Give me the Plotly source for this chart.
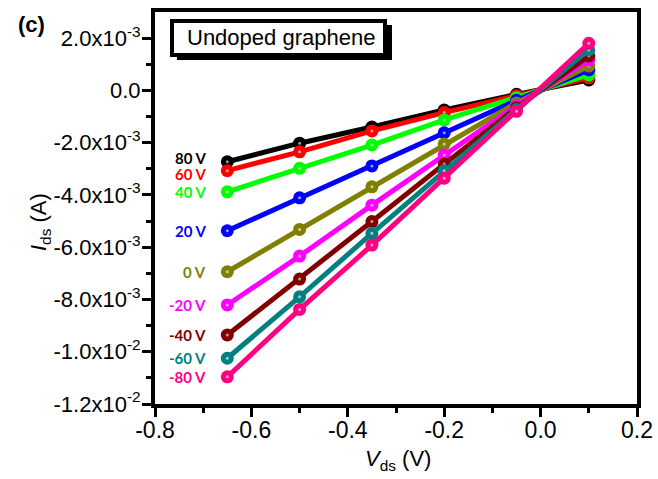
import plotly.graph_objects as go

# ---------------- data ----------------
vds = [-0.65, -0.5, -0.35, -0.2, -0.05, 0.1]

gate_labels = ["80 V", "60 V", "40 V", "20 V", "0 V", "-20 V", "-40 V", "-60 V", "-80 V"]

ids_80 = [-2.73e-3, -2.02e-3, -1.40e-3, -0.75e-3, -0.15e-3, 0.40e-3]
ids_60 = [-3.07e-3, -2.35e-3, -1.55e-3, -0.85e-3, -0.20e-3, 0.48e-3]
ids_40 = [-3.88e-3, -2.98e-3, -2.09e-3, -1.13e-3, -0.28e-3, 0.59e-3]
ids_20 = [-5.37e-3, -4.11e-3, -2.89e-3, -1.62e-3, -0.38e-3, 0.78e-3]
ids_0 = [-6.94e-3, -5.32e-3, -3.69e-3, -2.05e-3, -0.48e-3, 0.93e-3]
ids_m20 = [-8.21e-3, -6.34e-3, -4.39e-3, -2.47e-3, -0.58e-3, 1.16e-3]
ids_m40 = [-9.36e-3, -7.22e-3, -5.02e-3, -2.82e-3, -0.66e-3, 1.32e-3]
ids_m60 = [-10.25e-3, -7.90e-3, -5.47e-3, -3.07e-3, -0.73e-3, 1.55e-3]
ids_m80 = [-10.96e-3, -8.38e-3, -5.92e-3, -3.36e-3, -0.80e-3, 1.80e-3]

series = [ids_80, ids_60, ids_40, ids_20, ids_0, ids_m20, ids_m40, ids_m60, ids_m80]

x_tickvals = [-0.8, -0.6, -0.4, -0.2, 0.0, 0.2]
x_ticktext = ["-0.8", "-0.6", "-0.4", "-0.2", "0.0", "0.2"]
x_minorvals = [-0.7, -0.5, -0.3, -0.1, 0.1]

y_tickvals = [2e-3, 0.0, -2e-3, -4e-3, -6e-3, -8e-3, -1.0e-2, -1.2e-2]
y_ticktext = ["2.0x10<sup>-3</sup>", "0.0", "-2.0x10<sup>-3</sup>", "-4.0x10<sup>-3</sup>",
              "-6.0x10<sup>-3</sup>", "-8.0x10<sup>-3</sup>", "-1.0x10<sup>-2</sup>",
              "-1.2x10<sup>-2</sup>"]
y_minorvals = [1e-3, -1e-3, -3e-3, -5e-3, -7e-3, -9e-3, -11e-3]

# ---------------- style ----------------
colors = ["#000000", "#FF0000", "#00FF00", "#0000FF", "#808000",
          "#FF00FF", "#800000", "#008080", "#FF0080"]
label_nudge = {"80 V": 4, "60 V": -3}

W, H = 658, 479
ML, MR, MT, MB = 155, 21, 12, 75
PW, PH = W - ML - MR, H - MT - MB


def px(xp):
    return (xp - ML) / PW


def py(yp):
    return (H - MB - yp) / PH


fig = go.Figure()
for lab, ys, c in zip(gate_labels, series, colors):
    fig.add_trace(go.Scatter(
        x=vds, y=ys, mode="lines+markers", name=lab,
        line=dict(color=c, width=5),
        marker=dict(color=c, size=13, line=dict(width=0)),
    ))
    fig.add_trace(go.Scatter(
        x=vds, y=ys, mode="markers", showlegend=False, hoverinfo="skip",
        marker=dict(color="white", size=3, opacity=0.6, line=dict(width=0)),
    ))

annotations = []
for lab, ys, c in zip(gate_labels, series, colors):
    annotations.append(dict(
        x=vds[0], y=ys[0], xref="x", yref="y", text="<b>%s</b>" % lab,
        showarrow=False, xanchor="right", yanchor="middle",
        xshift=-19, yshift=label_nudge.get(lab, 0),
        font=dict(family="Lato", size=15, color=c),
    ))

title_font = dict(family="Liberation Sans", size=22, color="black")
annotations += [
    dict(x=px(31), y=py(24), xref="paper", yref="paper", text="<b>(c)</b>",
         xanchor="center", yanchor="middle", showarrow=False,
         font=dict(family="Liberation Sans", size=22, color="black")),
    dict(x=px(281), y=py(37), xref="paper", yref="paper", text="Undoped graphene",
         xanchor="center", yanchor="middle", showarrow=False,
         font=dict(family="Liberation Sans", size=22, color="black")),
    dict(x=px(40), y=py(222), xref="paper", yref="paper",
         text="<i>I</i><sub>ds</sub> (A)", textangle=-90, showarrow=False,
         xanchor="center", yanchor="middle", font=title_font),
    dict(x=px(398), y=py(460), xref="paper", yref="paper",
         text="<i>V</i><sub>ds</sub> (V)", showarrow=False,
         xanchor="center", yanchor="middle", font=title_font),
]

shapes = [
    dict(type="rect", xref="paper", yref="paper", layer="above",
         x0=px(177), x1=px(392), y0=py(60), y1=py(25),
         fillcolor="black", line=dict(width=0)),
    dict(type="rect", xref="paper", yref="paper", layer="above",
         x0=px(172), x1=px(385), y0=py(55), y1=py(21),
         fillcolor="white", line=dict(color="black", width=4)),
]

axis_common = dict(
    showgrid=False, zeroline=False, showline=True, linecolor="black",
    linewidth=4, mirror=True, ticks="outside", ticklen=9, tickwidth=3,
    tickcolor="black",
)

fig.update_layout(
    width=W, height=H,
    margin=dict(l=ML, r=MR, t=MT, b=MB, autoexpand=False),
    paper_bgcolor="white", plot_bgcolor="white",
    showlegend=False,
    xaxis=dict(range=[-0.8, 0.2], tickmode="array", tickvals=x_tickvals,
               ticktext=x_ticktext, ticklabelstandoff=-7,
               tickfont=dict(family="Liberation Sans", size=23, color="black"),
               minor=dict(tickvals=x_minorvals, ticks="outside", ticklen=5,
                          tickwidth=3, tickcolor="black"),
               **axis_common),
    yaxis=dict(range=[-0.012, 0.003], tickmode="array", tickvals=y_tickvals,
               ticktext=y_ticktext, ticklabelstandoff=-3,
               tickfont=dict(family="Liberation Sans", size=22, color="black"),
               minor=dict(tickvals=y_minorvals, ticks="outside", ticklen=5,
                          tickwidth=3, tickcolor="black"),
               **axis_common),
    annotations=annotations,
    shapes=shapes,
)

fig.write_html("out.html")
